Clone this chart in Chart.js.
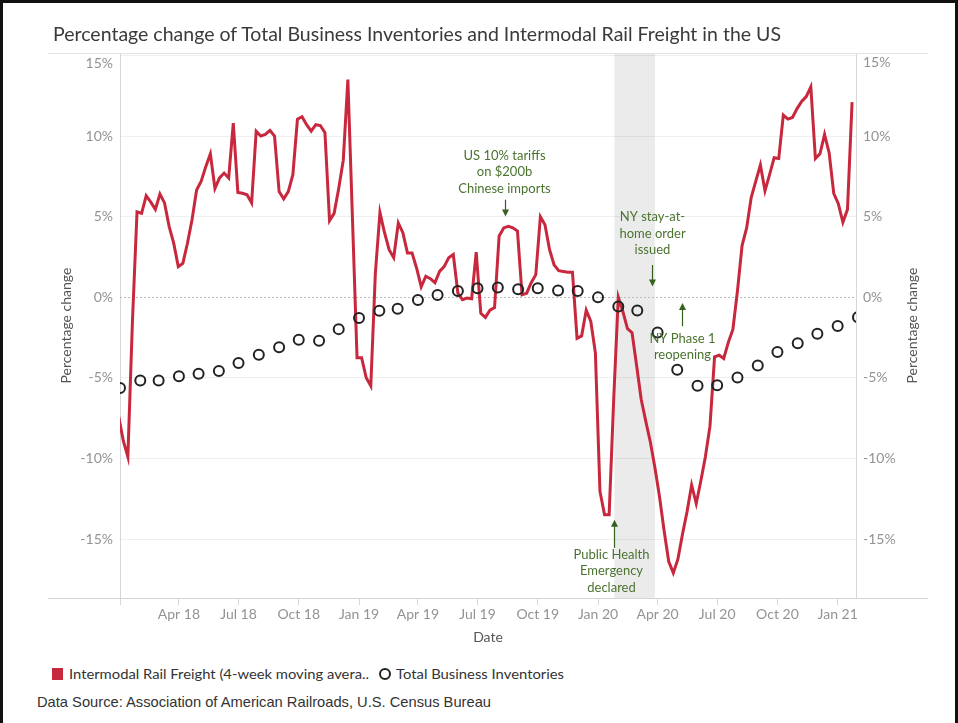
<!DOCTYPE html>
<html>
<head>
<meta charset="utf-8">
<title>Percentage change of Total Business Inventories and Intermodal Rail Freight in the US</title>
<script src="https://cdn.jsdelivr.net/npm/chart.js@4.4.1/dist/chart.umd.min.js"></script>
<style>
  html, body { margin: 0; padding: 0; background: #fff; }
  #page { position: relative; width: 958px; height: 723px; overflow: hidden; background: #fff; }
  #chartBox { position: absolute; left: 0; top: 0; width: 958px; height: 655px; }
  #frame { position: absolute; left: 0; top: 0; width: 958px; height: 760px; box-sizing: border-box;
           border: 3px solid #111; pointer-events: none; }
  .txt { position: absolute; white-space: nowrap; transform-origin: 0 50%; }
  #title { left: 53px; top: 21px; line-height: 24px; font: 20px Lato, sans-serif; color: #3a3a3a; }
  .legText { top: 665px; line-height: 18px; font: 14px Lato, sans-serif; color: #333; }
  #swatch { position: absolute; left: 52px; top: 668px; width: 11px; height: 12px; background: #c8283d; }
  #ring { position: absolute; left: 379px; top: 668px; width: 8px; height: 8px; border: 2px solid #222; border-radius: 50%; }
  #source { left: 37px; top: 693px; line-height: 18px; font: 15px "Liberation Sans", Arial, sans-serif; color: #333; }
</style>
</head>
<body>
<div id="page">
  <div id="chartBox"><canvas id="chart"></canvas></div>
  <div class="txt" id="title">Percentage change of Total Business Inventories and Intermodal Rail Freight in the US</div>
  <div id="swatch"></div>
  <div class="txt legText" id="leg1" style="left:69px">Intermodal Rail Freight (4-week moving avera..</div>
  <div id="ring"></div>
  <div class="txt legText" id="leg2" style="left:396px">Total Business Inventories</div>
  <div class="txt" id="source">Data Source: Association of American Railroads, U.S. Census Bureau</div>
  <div id="frame"></div>
</div>
<script>
// --- data ---
// weekly 4-week moving average of intermodal rail freight, first week ending 2017-12-30
const railStart = '2017-12-30';
const railPct = [
  -7.4, -8.9, -9.9, -1.5, 5.3, 5.2, 6.3, 5.9, 5.45, 6.4,
  5.85, 4.4, 3.35, 1.9, 2.1, 3.35, 4.8, 6.65, 7.2, 8.1,
  8.9, 6.75, 7.4, 7.7, 7.4, 10.8, 6.5, 6.45, 6.35, 5.85,
  10.3, 10.0, 10.1, 10.35, 10.0, 6.55, 6.1, 6.55, 7.6, 11.05,
  11.2, 10.7, 10.3, 10.7, 10.65, 10.2, 4.75, 5.2, 6.75, 8.5,
  13.5, 4.9, -3.75, -3.75, -5.0, -5.5, 1.5, 5.25, 4.0, 2.95,
  2.45, 4.6, 4.0, 2.75, 2.75, 1.8, 0.65, 1.3, 1.15, 0.9,
  1.6, 1.9, 2.45, 2.65, 0.25, -0.15, -0.05, -0.1, 2.8, -1.0,
  -1.25, -0.8, -0.65, 3.8, 4.3, 4.4, 4.3, 4.1, 0.15, 0.25,
  0.9, 1.4, 5.0, 4.5, 2.95, 2.0, 1.65, 1.6, 1.55, 1.55,
  -2.55, -2.4, -0.8, -1.5, -3.45, -12.05, -13.5, -13.5, -6.3, 0.0,
  -0.9, -1.95, -2.2, -4.25, -6.35, -7.7, -9.0, -10.6, -12.4, -14.5,
  -16.4, -17.1, -16.25, -14.7, -13.3, -11.65, -12.8, -11.4, -9.9, -8.0,
  -3.7, -3.6, -3.8, -2.8, -2.0, 0.4, 3.2, 4.3, 6.2, 7.2,
  8.2, 6.6, 7.6, 8.65, 8.6, 11.3, 11.05, 11.15, 11.7, 12.15,
  12.45, 13.05, 8.6, 8.9, 10.1, 8.95, 6.45, 5.8, 4.65, 5.45,
  12.1
];

// monthly total business inventories, Jan 2018 .. Feb 2021
const invStart = '2018-01-01';
const invPct = [
  -5.63, -5.16, -5.16, -4.91, -4.75, -4.58, -4.08, -3.57, -3.11, -2.64,
  -2.70, -1.98, -1.29, -0.84, -0.71, -0.18, 0.13, 0.38, 0.55, 0.60,
  0.50, 0.56, 0.42, 0.38, -0.01, -0.57, -0.82, -2.19, -4.50, -5.50,
  -5.46, -4.98, -4.24, -3.40, -2.85, -2.27, -1.78, -1.24
];

const xTickLabels = ['', 'Apr 18', 'Jul 18', 'Oct 18', 'Jan 19', 'Apr 19', 'Jul 19',
  'Oct 19', 'Jan 20', 'Apr 20', 'Jul 20', 'Oct 20', 'Jan 21'];
const yTicks = [-15, -10, -5, 0, 5, 10, 15];

const emergencyBand = ['2020-01-26', '2020-03-28'];

const notes = [
  { lines: ['US 10% tariffs', 'on $200b', 'Chinese imports'], date: '2019-08-12', from: 6.05, to: 5.0, textY: 8.8, dx: -1 },
  { lines: ['NY stay-at-', 'home order', 'issued'], date: '2020-03-24', from: 2.0, to: 0.67, textY: 4.97, dx: 0 },
  { lines: ['Public Health', 'Emergency', 'declared'], date: '2020-01-26', from: -15.55, to: -13.8, textY: -15.97, dx: -3 },
  { lines: ['NY Phase 1', 'reopening'], date: '2020-05-08', from: -1.8, to: -0.36, textY: -2.57, dx: 0 }
];

// --- helpers ---
const DAY = 86400000;
const BASE = Date.UTC(2018, 0, 1);
const dayOf = s => (Date.parse(s + 'T00:00:00Z') - BASE) / DAY;
const monthDay = m => (Date.UTC(2018, m, 1) - BASE) / DAY;

const railPoints = railPct.map((v, i) => ({ x: dayOf(railStart) + 7 * i, y: v }));
const invPoints = invPct.map((v, m) => ({ x: monthDay(m) + dayOf(invStart), y: v }));
const xTickDays = xTickLabels.map((_, q) => monthDay(q * 3));
const yTop = yTicks[yTicks.length - 1];

const FONT = 'Lato, sans-serif';
const RED = '#c8283d';
const NOTE_TEXT = '#4b7330';
const NOTE_ARROW = '#36601e';
const TICK_COLOR = '#939393';

// shaded emergency period + dotted zero line
const bandPlugin = {
  id: 'band',
  beforeDatasetsDraw(chart) {
    const { ctx, chartArea: a, scales: { x, y } } = chart;
    const x0 = x.getPixelForValue(dayOf(emergencyBand[0]));
    const x1 = x.getPixelForValue(dayOf(emergencyBand[1]));
    ctx.save();
    ctx.fillStyle = 'rgba(0,0,0,0.08)';
    ctx.fillRect(x0, a.top, x1 - x0, a.bottom - a.top);
    const y0 = Math.round(y.getPixelForValue(0)) + 0.5;
    ctx.strokeStyle = '#bdbdbd';
    ctx.lineWidth = 1;
    ctx.setLineDash([2, 2]);
    ctx.beginPath();
    ctx.moveTo(a.left, y0);
    ctx.lineTo(a.right, y0);
    ctx.stroke();
    ctx.restore();
  }
};

// annotations with arrows
const notesPlugin = {
  id: 'notes',
  afterDatasetsDraw(chart) {
    const { ctx, scales: { x, y } } = chart;
    ctx.save();
    notes.forEach(n => {
      const px = Math.round(x.getPixelForValue(dayOf(n.date))) + 0.5;
      const yFrom = y.getPixelForValue(n.from);
      const yTo = y.getPixelForValue(n.to);
      const dir = yTo > yFrom ? 1 : -1;
      ctx.strokeStyle = NOTE_ARROW;
      ctx.fillStyle = NOTE_ARROW;
      ctx.lineWidth = 1.2;
      ctx.beginPath();
      ctx.moveTo(px, yFrom);
      ctx.lineTo(px, yTo - dir * 6);
      ctx.stroke();
      ctx.beginPath();
      ctx.moveTo(px, yTo);
      ctx.lineTo(px - 3.5, yTo - dir * 7);
      ctx.lineTo(px + 3.5, yTo - dir * 7);
      ctx.closePath();
      ctx.fill();

      ctx.fillStyle = NOTE_TEXT;
      ctx.font = '13px ' + FONT;
      ctx.textAlign = 'center';
      ctx.textBaseline = 'middle';
      const ty = y.getPixelForValue(n.textY);
      n.lines.forEach((t, i) => ctx.fillText(t, px + n.dx, ty + i * 16.5));
    });
    ctx.restore();
  }
};

// pane rules, top tick labels kept inside the pane, right axis title
const framePlugin = {
  id: 'frameRules',
  afterDraw(chart) {
    const { ctx, chartArea: a } = chart;
    ctx.save();
    ctx.lineWidth = 1;
    ctx.strokeStyle = '#e2e2e2';
    ctx.beginPath();
    ctx.moveTo(48, Math.round(a.top) + 0.5);
    ctx.lineTo(928, Math.round(a.top) + 0.5);
    ctx.stroke();
    ctx.strokeStyle = '#d4d4d4';
    ctx.beginPath();
    ctx.moveTo(48, Math.round(a.bottom) + 0.5);
    ctx.lineTo(928, Math.round(a.bottom) + 0.5);
    ctx.stroke();

    ctx.font = '14px ' + FONT;
    ctx.fillStyle = TICK_COLOR;
    ctx.textBaseline = 'middle';
    ctx.textAlign = 'right';
    ctx.fillText(yTop + '%', a.left - 7, a.top + 10);
    ctx.textAlign = 'left';
    ctx.fillText(yTop + '%', a.right + 7, a.top + 9);

    ctx.translate(912, (a.top + a.bottom) / 2);
    ctx.rotate(-Math.PI / 2);
    ctx.fillStyle = '#555';
    ctx.textAlign = 'center';
    ctx.fillText('Percentage change', 0, 0);
    ctx.restore();
  }
};

const tickFont = { family: FONT, size: 14 };
const yLabel = v => (v === yTop ? '' : v + '%');

new Chart(document.getElementById('chart'), {
  type: 'line',
  data: {
    datasets: [
      {
        label: 'Total Business Inventories',
        data: invPoints,
        showLine: false,
        pointRadius: 5,
        pointBorderWidth: 2,
        pointBorderColor: '#222',
        pointBackgroundColor: 'rgba(0,0,0,0)',
        order: 0
      },
      {
        label: 'Intermodal Rail Freight (4-week moving average)',
        data: railPoints,
        borderColor: RED,
        borderWidth: 3,
        pointRadius: 0,
        tension: 0,
        order: 1
      }
    ]
  },
  options: {
    responsive: true,
    maintainAspectRatio: false,
    animation: false,
    events: [],
    layout: { padding: { top: 53, left: 0, right: 0, bottom: 0 } },
    plugins: { legend: { display: false }, tooltip: { enabled: false } },
    scales: {
      x: {
        type: 'linear',
        min: 0,
        max: 1124,
        afterBuildTicks: s => { s.ticks = xTickDays.map(v => ({ value: v })); },
        afterFit: s => { s.height = 57; },
        ticks: {
          autoSkip: false, maxRotation: 0, padding: 1,
          color: TICK_COLOR, font: tickFont,
          callback: (v, i) => xTickLabels[i]
        },
        grid: { drawOnChartArea: false, tickLength: 7, color: '#d9d9d9' },
        border: { color: '#d4d4d4' },
        title: { display: true, text: 'Date', color: '#555', font: { family: FONT, size: 14 }, padding: { top: 0, bottom: 9 } }
      },
      y: {
        position: 'left',
        min: -18.66,
        max: 15.15,
        afterBuildTicks: s => { s.ticks = yTicks.map(v => ({ value: v })); },
        afterFit: s => { s.width = 120; },
        ticks: { padding: 7, color: TICK_COLOR, font: tickFont, callback: yLabel },
        grid: { drawTicks: false, color: c => (c.tick && c.tick.value === 0) ? 'rgba(0,0,0,0)' : '#efefef' },
        border: { color: '#d6d6d6' },
        title: { display: true, text: 'Percentage change', color: '#555', font: { family: FONT, size: 14 }, padding: { top: 58, bottom: 0 } }
      },
      y2: {
        position: 'right',
        min: -18.66,
        max: 15.15,
        afterBuildTicks: s => { s.ticks = yTicks.map(v => ({ value: v })); },
        afterFit: s => { s.width = 102; },
        ticks: { padding: 7, color: TICK_COLOR, font: tickFont, callback: yLabel },
        grid: { drawOnChartArea: false, drawTicks: false },
        border: { color: '#d6d6d6' }
      }
    }
  },
  plugins: [bandPlugin, notesPlugin, framePlugin]
});

// squeeze html text to the widths measured on the original
function fitText(id, target) {
  const el = document.getElementById(id);
  el.style.transform = '';
  const w = el.getBoundingClientRect().width;
  if (w > 0) el.style.transform = 'scaleX(' + (target / w).toFixed(4) + ')';
}
function fitAll() {
  fitText('title', 728);
  fitText('leg1', 300);
  fitText('leg2', 168);
  fitText('source', 454);
}
fitAll();
if (document.fonts) document.fonts.ready.then(fitAll);
</script>
</body>
</html>
